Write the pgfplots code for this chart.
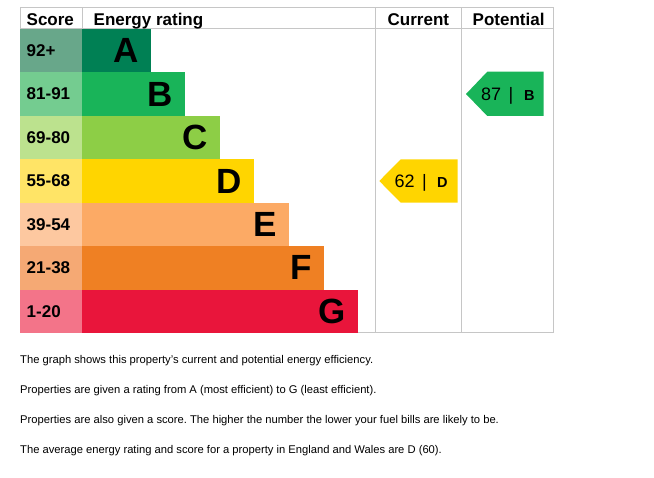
\documentclass[border=0pt]{standalone}
\usepackage{fontspec}
\setmainfont{Liberation Sans}
\usepackage{pgfplots}
\pgfplotsset{compat=1.18}
\frenchspacing
\definecolor{bA}{HTML}{008054}
\definecolor{bB}{HTML}{19B459}
\definecolor{bC}{HTML}{8DCE46}
\definecolor{bD}{HTML}{FFD500}
\definecolor{bE}{HTML}{FCAA65}
\definecolor{bF}{HTML}{EF8023}
\definecolor{bG}{HTML}{E9153B}
\definecolor{sA}{HTML}{68A78A}
\definecolor{sB}{HTML}{74CC90}
\definecolor{sC}{HTML}{BCE28E}
\definecolor{sD}{HTML}{FFE466}
\definecolor{sE}{HTML}{FDC8A0}
\definecolor{sF}{HTML}{F5A974}
\definecolor{sG}{HTML}{F37489}
\definecolor{gridc}{HTML}{C6C6C6}
\tikzset{
  hdr/.style={anchor=base west, inner sep=0pt, font=\bfseries\fontsize{17}{17}\selectfont},
  slab/.style={anchor=west, inner sep=0pt, font=\bfseries\fontsize{17}{17}\selectfont},
  foot/.style={anchor=base west, inner sep=0pt, font=\fontsize{11.2}{11.2}\selectfont},
  atxt/.style={anchor=base west, inner sep=0pt, font=\fontsize{18}{18}\selectfont},
  alet/.style={anchor=base west, inner sep=0pt, font=\bfseries\fontsize{14.5}{14.5}\selectfont},
}
\begin{document}
\begin{tikzpicture}
\begin{axis}[
  width=654pt, height=478pt, scale only axis,
  xmin=-82, xmax=572, ymin=0, ymax=478, y dir=reverse,
  hide axis, clip=false, enlargelimits=false,
  rbar/.style={xbar, bar width=43.43, bar shift=0pt, draw=none, fill=#1},
  rlab/.style={nodes near coords, point meta=explicit symbolic,
     every node near coord/.append style={anchor=east, text=black, xshift=-8.5pt,
       font=\bfseries\fontsize{35}{35}\selectfont}},
]
% invisible extent
\addplot[draw=none] coordinates {(-82,0) (572,478)};
% frame and grid
\addplot[draw=gridc, line width=1pt] coordinates {(-62,8) (471,8) (471,333) (-62,333)} --cycle;
\addplot[draw=gridc, line width=1pt] coordinates {(-62,29) (471,29)};
\addplot[draw=gridc, line width=1pt] coordinates {(0,8) (0,29)};
\addplot[draw=gridc, line width=1pt] coordinates {(293,8) (293,333)};
\addplot[draw=gridc, line width=1pt] coordinates {(379.5,8) (379.5,333)};
% score cells
\addplot[rbar=sA] coordinates {(-62,50.7)};
\addplot[rbar=sB] coordinates {(-62,94.1)};
\addplot[rbar=sC] coordinates {(-62,137.6)};
\addplot[rbar=sD] coordinates {(-62,181.0)};
\addplot[rbar=sE] coordinates {(-62,224.4)};
\addplot[rbar=sF] coordinates {(-62,267.9)};
\addplot[rbar=sG] coordinates {(-62,311.3)};
% rating bars
\addplot[rbar=bA, rlab] coordinates {(68.5,50.7) [A]};
\addplot[rbar=bB, rlab] coordinates {(103,94.1) [B]};
\addplot[rbar=bC, rlab] coordinates {(137.5,137.6) [C]};
\addplot[rbar=bD, rlab] coordinates {(172,181.0) [D]};
\addplot[rbar=bE, rlab] coordinates {(206.5,224.4) [E]};
\addplot[rbar=bF, rlab] coordinates {(241.5,267.9) [F]};
\addplot[rbar=bG, rlab] coordinates {(275.7,311.3) [G]};
% score labels
\node[slab] at (axis cs:-55.5,50.7) {92+};
\node[slab] at (axis cs:-55.5,94.1) {81-91};
\node[slab] at (axis cs:-55.5,137.6) {69-80};
\node[slab] at (axis cs:-55.5,181.0) {55-68};
\node[slab] at (axis cs:-55.5,224.4) {39-54};
\node[slab] at (axis cs:-55.5,267.9) {21-38};
\node[slab] at (axis cs:-55.5,311.3) {1-20};
% headers
\node[hdr] at (axis cs:-55.5,26) {Score};
\node[hdr] at (axis cs:11.5,26) {Energy rating};
\node[hdr] at (axis cs:305.5,26) {Current};
\node[hdr] at (axis cs:390.5,26) {Potential};
% current arrow (62, D)
\addplot[fill=bD, draw=none] coordinates {(297.3,181) (318.7,159.3) (375.7,159.3) (375.7,202.7) (318.7,202.7)} --cycle;
\node[atxt] at (axis cs:312.5,187.7) {62};
\node[atxt] at (axis cs:340,187.7) {|};
\node[alet] at (axis cs:355,187.7) {D};
% potential arrow (87, B)
\addplot[fill=bB, draw=none] coordinates {(384,94) (405.3,71.7) (461.7,71.7) (461.7,116) (405.3,116)} --cycle;
\node[atxt] at (axis cs:399,100.7) {87};
\node[atxt] at (axis cs:426.5,100.7) {|};
\node[alet] at (axis cs:442,100.7) {B};
% footer
\node[foot] at (axis cs:-62,364) {The graph shows this property's current and potential energy efficiency.};
\node[foot] at (axis cs:-62,394) {Properties are given a rating from A (most efficient) to G (least efficient).};
\node[foot] at (axis cs:-62,424) {Properties are also given a score. The higher the number the lower your fuel bills are likely to be.};
\node[foot] at (axis cs:-62,454) {The average energy rating and score for a property in England and Wales are D (60).};
\end{axis}
\end{tikzpicture}
\end{document}
